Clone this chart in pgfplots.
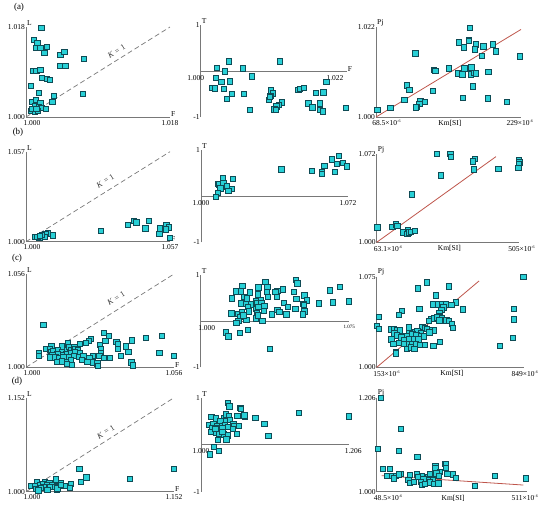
\documentclass[border=0pt]{standalone}
\usepackage{fontspec}
\setmainfont{Liberation Serif}
\usepackage{pgfplots}
\pgfplotsset{compat=1.18}

\definecolor{cy}{RGB}{40,208,214}
\definecolor{cyd}{RGB}{15,75,85}
\definecolor{axg}{RGB}{120,120,120}
\definecolor{redl}{RGB}{190,85,75}

\pgfplotsset{
  panel/.style={scale only axis, anchor=south west, hide axis, clip=false},
  mk/.style={only marks, mark=square*, mark size=2.7pt,
    mark options={fill=cy, draw=cyd, line width=0.55pt}},
  fit/.style={no marks, redl, line width=0.8pt},
}
\tikzset{
  ax/.style={axg, line width=0.7pt},
  kline/.style={axg, line width=0.7pt, dash pattern=on 5pt off 3pt},
  lab/.style={font=\fontsize{7.5}{8}\selectfont, inner sep=1pt},
  klab/.style={font=\fontsize{8}{9}\selectfont, inner sep=1pt, rotate=32, text=black!80},
}

% L-F panel: #1 end label, #2 #3 position of the K=1 label
\newcommand{\LF}[3]{%
  \draw[ax] (rel axis cs:0,1) -- (rel axis cs:0,0) -- (rel axis cs:1,0);
  \draw[kline] (rel axis cs:0,0) -- (rel axis cs:1,1);
  \node[lab,anchor=east] at (rel axis cs:0,1) {#1};
  \node[lab,anchor=east] at (rel axis cs:0,0) {1.000};
  \node[lab,anchor=north,xshift=6pt,yshift=-2pt] at (rel axis cs:0,0) {1.000};
  \node[lab,anchor=north,yshift=-2pt] at (rel axis cs:1,0) {#1};
  \node[lab,anchor=south west] at (rel axis cs:0,1) {L};
  \node[lab,anchor=south west,yshift=-1pt] at (rel axis cs:1,0) {F};
  \node[klab,xshift=-1pt,yshift=1.5pt] at (rel axis cs:#2,#3) {\textit{K}\hspace{0.3em}=\hspace{0.3em}1};
}
% T panel: #1 end label, #2 shift of 1.000, #3 shift of end label
\newcommand{\TP}[3]{%
  \draw[ax] (rel axis cs:0,0) -- (rel axis cs:0,1);
  \draw[ax] (rel axis cs:0,0.5) -- (rel axis cs:1,0.5);
  \node[lab,anchor=east] at (rel axis cs:0,1) {1};
  \node[lab,anchor=east] at (rel axis cs:0,0) {-1};
  \node[lab,anchor=south west] at (rel axis cs:0,1) {T};
  \node[lab,anchor=north,xshift=#2,yshift=-3pt] at (rel axis cs:0,0.5) {1.000};
  \node[lab,anchor=north,xshift=#3,yshift=-3pt] at (rel axis cs:1,0.5) {#1};
}
% Pj-Km panel: #1 top label, #2 first Km, #3 last Km, #4 #5 shifts
\newcommand{\PK}[5]{%
  \draw[ax] (rel axis cs:0,1) -- (rel axis cs:0,0) -- (rel axis cs:1,0);
  \node[lab,anchor=east] at (rel axis cs:0,1) {#1};
  \node[lab,anchor=east] at (rel axis cs:0,0) {1.000};
  \node[lab,anchor=south west] at (rel axis cs:0,1) {Pj};
  \node[lab,anchor=north,xshift=#4,yshift=-2pt] at (rel axis cs:0,0) {#2×10\textsuperscript{\fontsize{4}{4}\selectfont -6}};
  \node[lab,anchor=north,xshift=#5,yshift=-2pt] at (rel axis cs:1,0) {#3×10\textsuperscript{\fontsize{4}{4}\selectfont -6}};
  \node[lab,anchor=north,yshift=-2pt] at (rel axis cs:0.51,0) {Km[SI]};
}

\begin{document}
\begin{tikzpicture}
\useasboundingbox (0,0) rectangle (550pt,-507pt);

\node[font=\fontsize{9}{10}\selectfont] at (19pt,-7pt) {(a)};
\node[font=\fontsize{9}{10}\selectfont] at (18pt,-132pt) {(b)};
\node[font=\fontsize{9}{10}\selectfont] at (17pt,-258pt) {(c)};
\node[font=\fontsize{9}{10}\selectfont] at (17pt,-381pt) {(d)};

% ---------------- row (a)
\begin{axis}[panel, at={(26pt,-117pt)}, width=144pt, height=90pt,
  xmin=1, xmax=1.018, ymin=1, ymax=1.018]
\LF{1.018}{0.64}{0.72}
\addplot[mk] coordinates {(1.0019,1.0179)(1.0010,1.0155)(1.0014,1.0148)(1.0013,1.0138)(1.0018,1.0139)(1.0026,1.0141)(1.0023,1.0128)(1.0043,1.0125)(1.0048,1.0130)(1.0072,1.0116)(1.0043,1.0102)(1.0049,1.0103)(1.0009,1.0093)(1.0013,1.0092)(1.0018,1.0095)(1.0020,1.0079)(1.0026,1.0076)(1.0030,1.0075)(1.0006,1.0062)(1.0016,1.0048)(1.0035,1.0043)(1.0071,1.0047)(1.0008,1.0030)(1.0012,1.0035)(1.0018,1.0029)(1.0033,1.0031)(1.0011,1.0023)(1.0016,1.0020)(1.0019,1.0019)(1.0025,1.0017)(1.0006,1.0013)(1.0011,1.0011)(1.0015,1.0012)(1.0008,1.0016)(1.0013,1.0016)};
\end{axis}

\begin{axis}[panel, at={(200.7pt,-117pt)}, width=146pt, height=92pt,
  xmin=1, xmax=1.022, ymin=-1, ymax=1]
\TP{1.022}{-5pt}{-11.7pt}
\node[lab,anchor=south west,yshift=-2pt] at (rel axis cs:1,0.5) {F};
\addplot[mk] coordinates {(1.0042,0.215)(1.0119,0.215)(1.0024,0.069)(1.0036,-0.005)(1.0063,0.055)(1.0077,-0.113)(1.0023,-0.142)(1.0031,-0.236)(1.0044,-0.222)(1.0189,-0.236)(1.0017,-0.360)(1.0021,-0.375)(1.0035,-0.389)(1.0047,-0.491)(1.0039,-0.600)(1.0065,-0.498)(1.0106,-0.418)(1.0109,-0.484)(1.0105,-0.535)(1.0103,-0.622)(1.0104,-0.564)(1.0147,-0.404)(1.0149,-0.389)(1.0155,-0.360)(1.0173,-0.476)(1.0185,-0.462)(1.0122,-0.680)(1.0118,-0.731)(1.0114,-0.767)(1.0111,-0.833)(1.0113,-0.840)(1.0074,-0.840)(1.0162,-0.702)(1.0167,-0.804)(1.0168,-0.789)(1.0179,-0.702)(1.0179,-0.840)(1.0184,-0.876)(1.0219,-0.804)};
\end{axis}

\begin{axis}[panel, at={(376pt,-117pt)}, width=145pt, height=90pt,
  xmin=68.5, xmax=229, ymin=1, ymax=1.022]
\PK{1.022}{68.5}{229}{10.7pt}{-1pt}
\addplot[fit] coordinates {(68.5,1.0000)(229,1.0214)};
\addplot[mk] coordinates {(172.6,1.0218)(160.4,1.0183)(171.1,1.0189)(171.5,1.0186)(165.5,1.0170)(178.8,1.0178)(178.1,1.0166)(187.3,1.0173)(198.0,1.0178)(201.3,1.0161)(185.8,1.0149)(227.5,1.0148)(112.0,1.0156)(132.7,1.0115)(134.2,1.0113)(148.9,1.0119)(159.6,1.0107)(164.1,1.0104)(166.3,1.0119)(174.0,1.0122)(173.7,1.0104)(176.6,1.0108)(179.2,1.0107)(192.9,1.0110)(175.9,1.0075)(102.4,1.0078)(105.4,1.0066)(131.2,1.0064)(99.9,1.0042)(164.4,1.0047)(192.5,1.0046)(213.5,1.0037)(117.6,1.0040)(122.7,1.0037)(116.5,1.0033)(113.1,1.0025)(112.7,1.0024)(84.4,1.0023)(70.0,1.0017)};
\end{axis}

% ---------------- row (b)
\begin{axis}[panel, at={(26pt,-241.7pt)}, width=144pt, height=90pt,
  xmin=1, xmax=1.057, ymin=1, ymax=1.057]
\LF{1.057}{0.5625}{0.667}
\addplot[mk] coordinates {(1.0297,1.0070)(1.0404,1.0108)(1.0427,1.0131)(1.0437,1.0122)(1.0486,1.0133)(1.0472,1.0084)(1.0529,1.0084)(1.0528,1.0049)(1.0555,1.0108)(1.0566,1.0091)(1.0554,1.0078)(1.0570,1.0025)(1.0106,1.0040)(1.0086,1.0053)(1.0077,1.0051)(1.0073,1.0032)(1.0063,1.0042)(1.0053,1.0025)(1.0034,1.0030)(1.0045,1.0030)(1.0055,1.0036)};
\end{axis}

\begin{axis}[panel, at={(201pt,-242.3pt)}, width=147pt, height=92.3pt,
  xmin=1, xmax=1.072, ymin=-1, ymax=1]
\TP{1.072}{0pt}{0pt}
\addplot[mk] coordinates {(1.0676,0.877)(1.0642,0.798)(1.0695,0.718)(1.0666,0.697)(1.0715,0.646)(1.0604,0.653)(1.0544,0.552)(1.0593,0.531)(1.0593,0.487)(1.0655,0.531)(1.0393,0.581)(1.0106,0.401)(1.0155,0.372)(1.0081,0.271)(1.0090,0.256)(1.0109,0.278)(1.0125,0.213)(1.0094,0.170)(1.0150,0.155)(1.0134,0.112)(1.0083,0.076)(1.0072,-0.018)};
\end{axis}

\begin{axis}[panel, at={(376.7pt,-242.3pt)}, width=142.6pt, height=88pt,
  xmin=63.1, xmax=505, ymin=1, ymax=1.072]
\PK{1.072}{63.1}{505}{11.6pt}{2.4pt}
\addplot[fit] coordinates {(63.1,1.0000)(432.7,1.0701)};
\addplot[mk] coordinates {(250.0,1.0723)(291.3,1.0723)(292.3,1.0701)(367.7,1.0682)(360.5,1.0663)(504.0,1.0674)(505.0,1.0654)(504.0,1.0638)(501.9,1.0611)(363.6,1.0597)(440.0,1.0600)(261.3,1.0548)(172.5,1.0393)(65.2,1.0123)(111.6,1.0128)(123.0,1.0147)(127.1,1.0136)(143.6,1.0082)(160.2,1.0098)(158.1,1.0071)(163.3,1.0082)(168.4,1.0087)(180.8,1.0095)};
\end{axis}

% ---------------- row (c)
\begin{axis}[panel, at={(26pt,-367.3pt)}, width=148pt, height=93.3pt,
  xmin=1, xmax=1.056, ymin=1, ymax=1.056]
\LF{1.056}{0.62}{0.73}
\addplot[mk] coordinates {(1.0066,1.0254)(1.0294,1.0206)(1.0314,1.0188)(1.0453,1.0178)(1.0513,1.0188)(1.0245,1.0172)(1.0237,1.0160)(1.0300,1.0158)(1.0342,1.0152)(1.0347,1.0142)(1.0400,1.0162)(1.0378,1.0126)(1.0348,1.0112)(1.0387,1.0094)(1.0280,1.0134)(1.0284,1.0108)(1.0282,1.0088)(1.0277,1.0068)(1.0318,1.0058)(1.0295,1.0056)(1.0359,1.0068)(1.0504,1.0086)(1.0560,1.0068)(1.0398,1.0030)(1.0404,1.0012)(1.0203,1.0142)(1.0227,1.0146)(1.0158,1.0144)(1.0136,1.0126)(1.0096,1.0130)(1.0074,1.0112)(1.0049,1.0084)(1.0049,1.0068)(1.0090,1.0108)(1.0093,1.0092)(1.0103,1.0100)(1.0120,1.0104)(1.0137,1.0094)(1.0155,1.0106)(1.0164,1.0122)(1.0172,1.0104)(1.0182,1.0124)(1.0187,1.0112)(1.0197,1.0104)(1.0202,1.0084)(1.0185,1.0094)(1.0166,1.0084)(1.0151,1.0082)(1.0136,1.0072)(1.0119,1.0078)(1.0100,1.0076)(1.0091,1.0060)(1.0111,1.0060)(1.0124,1.0054)(1.0141,1.0060)(1.0163,1.0060)(1.0182,1.0068)(1.0201,1.0064)(1.0217,1.0068)(1.0252,1.0068)(1.0240,1.0054)(1.0232,1.0032)(1.0252,1.0030)(1.0270,1.0024)(1.0271,1.0010)(1.0212,1.0044)(1.0170,1.0044)(1.0151,1.0034)(1.0135,1.0036)(1.0117,1.0032)(1.0173,1.0016)(1.0154,1.0022)};
\end{axis}

\begin{axis}[panel, at={(200.7pt,-367.3pt)}, width=148.6pt, height=92.3pt,
  xmin=1, xmax=1.075, ymin=-1, ymax=1]
\TP{\fontsize{5}{5}\selectfont 1.075}{6pt}{0pt}
\addplot[mk] coordinates {(1.0479,0.895)(1.0488,0.823)(1.0326,0.859)(1.0210,0.765)(1.0291,0.736)(1.0336,0.751)(1.0703,0.751)(1.0651,0.671)(1.0414,0.693)(1.0387,0.664)(1.0177,0.650)(1.0202,0.650)(1.0247,0.628)(1.0333,0.643)(1.0377,0.635)(1.0469,0.635)(1.0289,0.585)(1.0340,0.534)(1.0383,0.527)(1.0523,0.563)(1.0220,0.527)(1.0234,0.498)(1.0158,0.498)(1.0483,0.484)(1.0536,0.455)(1.0304,0.462)(1.0279,0.448)(1.0205,0.390)(1.0229,0.375)(1.0282,0.404)(1.0306,0.390)(1.0252,0.368)(1.0420,0.404)(1.0518,0.375)(1.0595,0.390)(1.0668,0.412)(1.0748,0.433)(1.0441,0.318)(1.0478,0.274)(1.0520,0.354)(1.0237,0.310)(1.0279,0.267)(1.0291,0.318)(1.0321,0.332)(1.0387,0.245)(1.0397,0.202)(1.0523,0.217)(1.0515,0.152)(1.0155,0.173)(1.0188,0.159)(1.0207,0.202)(1.0242,0.217)(1.0319,0.224)(1.0284,0.173)(1.0358,0.152)(1.0432,0.152)(1.0197,0.101)(1.0190,0.014)(1.0180,-0.029)(1.0230,0.029)(1.0279,0.065)(1.0311,0.007)(1.0126,-0.238)(1.0140,-0.325)(1.0198,-0.253)(1.0239,-0.188)(1.0348,-0.599)(1.0215,0.130)(1.0289,0.130)};
\end{axis}

\begin{axis}[panel, at={(376.7pt,-367.3pt)}, width=147.3pt, height=90.7pt,
  xmin=153, xmax=849, ymin=1, ymax=1.075]
\PK{1.075}{153}{849}{10pt}{1pt}
\addplot[fit] coordinates {(153,1.0000)(636.5,1.0714)};
\addplot[mk] coordinates {(846,1.0750)(389.3,1.0703)(494.8,1.0670)(346.7,1.0653)(433.4,1.0596)(527.9,1.0538)(420.8,1.0521)(444.4,1.0521)(460.1,1.0521)(480.6,1.0521)(468.0,1.0496)(505.8,1.0516)(559.4,1.0480)(354.6,1.0485)(458.6,1.0474)(449.1,1.0449)(446.0,1.0425)(271.1,1.0469)(257.0,1.0433)(162.5,1.0419)(801.9,1.0485)(800.3,1.0397)(411.3,1.0403)(423.9,1.0405)(439.7,1.0414)(461.7,1.0411)(400.3,1.0386)(449.1,1.0389)(482.2,1.0389)(494.8,1.0383)(509.0,1.0358)(513.7,1.0325)(368.8,1.0336)(381.4,1.0328)(420.8,1.0306)(401.9,1.0306)(390.8,1.0317)(153.0,1.0342)(164.0,1.0320)(219.2,1.0314)(233.3,1.0320)(249.1,1.0309)(263.3,1.0306)(305.8,1.0331)(334.1,1.0289)(345.2,1.0303)(360.9,1.0284)(236.5,1.0281)(249.1,1.0265)(304.2,1.0287)(321.5,1.0276)(340.4,1.0267)(362.5,1.0262)(376.7,1.0256)(401.9,1.0289)(293.2,1.0259)(269.6,1.0248)(280.6,1.0229)(307.4,1.0234)(327.8,1.0232)(349.9,1.0232)(222.3,1.0232)(231.8,1.0193)(257.0,1.0204)(283.7,1.0193)(305.8,1.0196)(318.4,1.0196)(338.9,1.0190)(359.3,1.0185)(379.8,1.0185)(452.3,1.0210)(420.8,1.0179)(294.8,1.0154)(313.7,1.0165)(331.0,1.0154)(244.4,1.0130)(242.8,1.0116)(797.2,1.0245)(735.8,1.0179)};
\end{axis}

% ---------------- row (d)
\begin{axis}[panel, at={(26pt,-491.7pt)}, width=148pt, height=94pt,
  xmin=1, xmax=1.152, ymin=1, ymax=1.152]
\LF{1.152}{0.55}{0.63}
\addplot[mk] coordinates {(1.0548,1.0367)(1.1520,1.0367)(1.0620,1.0232)(1.0561,1.0156)(1.1065,1.0205)(1.0305,1.0199)(1.0195,1.0151)(1.0113,1.0151)(1.0240,1.0146)(1.0359,1.0146)(1.0459,1.0129)(1.0051,1.0092)(1.0089,1.0092)(1.0140,1.0108)(1.0171,1.0129)(1.0212,1.0113)(1.0270,1.0113)(1.0322,1.0092)(1.0394,1.0092)(1.0452,1.0065)(1.0298,1.0075)(1.0246,1.0075)(1.0185,1.0075)(1.0147,1.0065)(1.0103,1.0049)(1.0127,1.0022)(1.0219,1.0027)(1.0315,1.0027)(1.0322,1.0054)(1.0359,1.0108)};
\end{axis}

\begin{axis}[panel, at={(201pt,-491.7pt)}, width=148.3pt, height=94pt,
  xmin=1, xmax=1.206, ymin=-1, ymax=1]
\TP{1.206}{0pt}{4pt}
\addplot[mk] coordinates {(1.0370,0.894)(1.0394,0.816)(1.0546,0.780)(1.0551,0.766)(1.1356,0.681)(1.2056,0.603)(1.0144,0.596)(1.0208,0.560)(1.0319,0.560)(1.0347,0.645)(1.0384,0.603)(1.0505,0.617)(1.0606,0.589)(1.0602,0.624)(1.0755,0.567)(1.0403,0.532)(1.0333,0.496)(1.0269,0.504)(1.0449,0.440)(1.0880,0.440)(1.0116,0.418)(1.0171,0.433)(1.0227,0.404)(1.0287,0.404)(1.0333,0.418)(1.0454,0.397)(1.0528,0.397)(1.0153,0.362)(1.0227,0.348)(1.0296,0.362)(1.0370,0.383)(1.0444,0.333)(1.0134,0.277)(1.0204,0.262)(1.0250,0.241)(1.0319,0.220)(1.0375,0.199)(1.0495,0.227)(1.0935,0.191)(1.0231,0.106)(1.0352,0.113)(1.0181,-0.043)(1.0245,-0.135)(1.0120,-0.206)(1.0296,0.277)(1.0199,0.333)};
\end{axis}

\begin{axis}[panel, at={(376.7pt,-491.7pt)}, width=150pt, height=94pt,
  xmin=48.5, xmax=511, ymin=1, ymax=1.206]
\PK{1.206}{48.5}{511}{11.6pt}{-1.7pt}
\addplot[fit] coordinates {(63.9,1.0351)(500.7,1.0146)};
\addplot[mk] coordinates {(61.9,1.2060)(122.5,1.1373)(51.6,1.0935)(116.3,1.0891)(173.9,1.0760)(68.0,1.0497)(88.6,1.0497)(259.2,1.0614)(261.3,1.0599)(229.4,1.0562)(229.4,1.0526)(261.3,1.0526)(243.8,1.0438)(266.4,1.0387)(282.8,1.0380)(293.1,1.0307)(413.4,1.0343)(509.0,1.0292)(351.7,1.0131)(81.4,1.0351)(95.8,1.0343)(108.1,1.0351)(121.5,1.0387)(100.9,1.0292)(151.3,1.0365)(146.1,1.0263)(150.3,1.0190)(171.8,1.0380)(188.3,1.0343)(205.8,1.0329)(174.9,1.0321)(192.4,1.0270)(208.8,1.0248)(222.2,1.0292)(226.3,1.0373)(232.5,1.0402)(184.2,1.0219)(187.3,1.0146)(196.5,1.0175)(211.9,1.0205)(225.3,1.0175)(238.6,1.0183)(162.6,1.0219)(240.7,1.0343)(212.9,1.0394)(116.3,1.0380)};
\end{axis}

\end{tikzpicture}
\end{document}
